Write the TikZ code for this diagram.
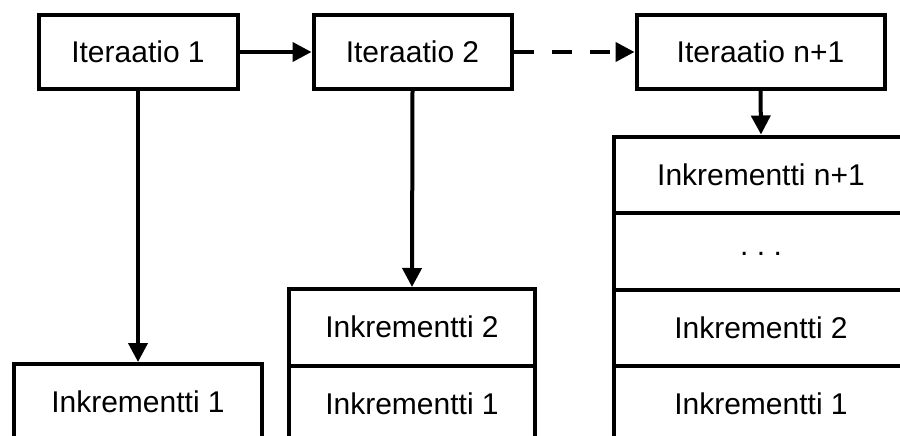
\documentclass[tikz,border=0pt]{standalone}
\usepackage{fontspec}
\setmainfont{Liberation Sans}
\usetikzlibrary{arrows.meta}
\begin{document}
\begin{tikzpicture}[x=1pt,y=-1pt,
  box/.style={draw,line width=4pt,rectangle,inner sep=0pt,font=\fontsize{30}{36}\selectfont},
  itbox/.style={box,minimum height=74pt},
  rowbox/.style={box,minimum height=76.5pt},
  arr/.style={line width=4pt,-{Triangle[length=19pt,width=19pt]}}]
\useasboundingbox (0,0) rectangle (900,436);
\clip (0,0) rectangle (900,436);
% iterations
\node[itbox,minimum width=199pt] (it1) at (138,52) {Iteraatio 1};
\node[itbox,minimum width=198pt] (it2) at (412.5,52) {Iteraatio 2};
\node[itbox,minimum width=248pt] (itn) at (760.5,52) {Iteraatio n+1};
% left stack
\node[rowbox,minimum width=248pt] (l1) at (138,402.25) {Inkrementti 1};
% middle stack
\node[rowbox,minimum width=246pt] (m2) at (412,327.25) {Inkrementti 2};
\node[rowbox,minimum width=246pt] (m1) at (412,403.75) {Inkrementti 1};
% right stack
\node[rowbox,minimum width=294pt] (rn) at (761,174.75) {Inkrementti n+1};
\node[rowbox,minimum width=294pt] (rd) at (761,251.25) {};
\node[font=\fontsize{30}{36}\selectfont,inner sep=0pt] (dots) at (761,254) {.\ .\ .};
\node[rowbox,minimum width=294pt] (r2) at (761,327.75) {Inkrementti 2};
\node[rowbox,minimum width=294pt] (r1) at (761,404.25) {Inkrementti 1};
% connectors
\draw[arr] (it1) -- (it2);
\draw[arr,dash pattern=on 20pt off 18pt] (it2) -- (itn);
\draw[arr] (it1.south) -- (l1.north);
\draw[arr] (it2.south) -- (m2.north);
\draw[arr] (itn.south) -- (rn.north);
\end{tikzpicture}
\end{document}
